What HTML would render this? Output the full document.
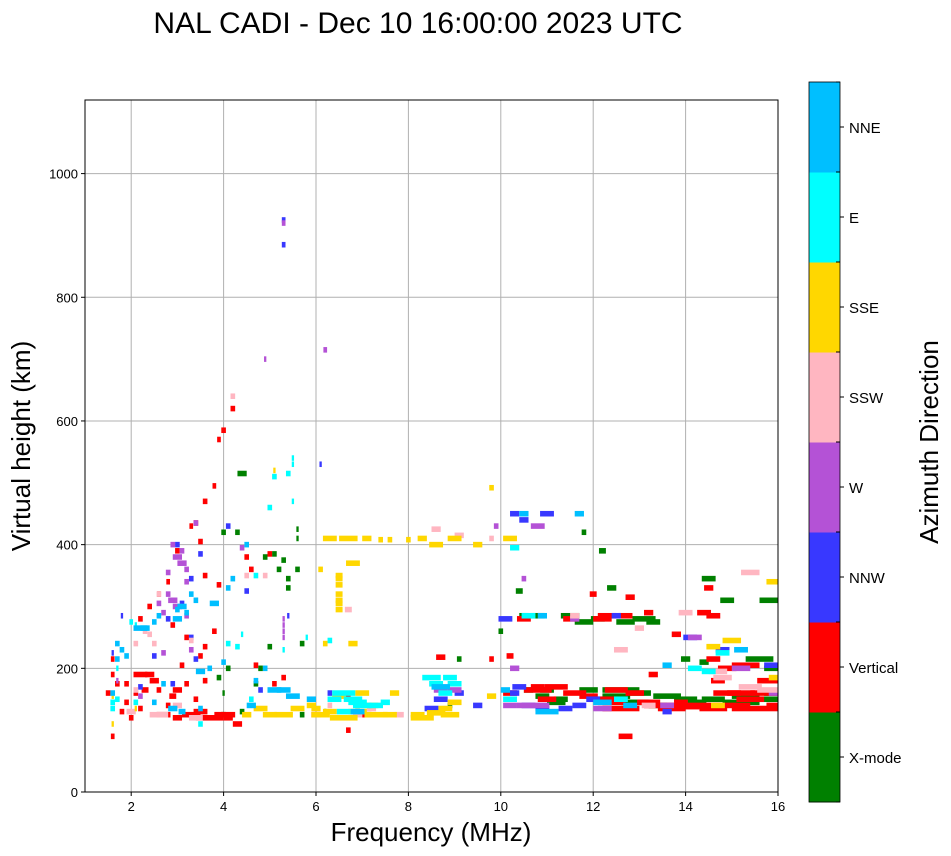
<!DOCTYPE html>
<html><head><meta charset="utf-8"><style>
html,body{margin:0;padding:0;background:#fff;}
svg{display:block;font-family:"Liberation Sans","DejaVu Sans",sans-serif;}
</style></head><body>
<svg id="chart" width="951" height="856" viewBox="0 0 951 856">
<defs><clipPath id="plotclip"><rect x="85" y="100" width="693" height="692"/></clipPath></defs>
<text x="418" y="33" font-size="30" text-anchor="middle">NAL CADI - Dec 10 16:00:00 2023 UTC</text>
<g id="grid"></g>
<g id="marks" clip-path="url(#plotclip)"></g>
<rect x="85" y="100" width="693" height="692" fill="none" stroke="#000" stroke-width="1"/>
<g id="axes"></g>
<text x="431" y="841" font-size="26" text-anchor="middle">Frequency (MHz)</text>
<text transform="translate(30,446) rotate(-90)" font-size="26" text-anchor="middle">Virtual height (km)</text>
<g id="cbar"></g>
<text transform="translate(938,442) rotate(-90)" font-size="26" text-anchor="middle">Azimuth Direction</text>
</svg>
<script>
const xTicks=[2,4,6,8,10,12,14,16];
const yTicks=[0,200,400,600,800,1000];
const dirLabels=["X-mode","Vertical","NNW","W","SSW","SSE","E","NNE"];
const dirColors=["#008000","#ff0000","#3838ff","#b452d6","#ffb6c1","#ffd700","#00ffff","#00bfff"];
// [freq MHz, height km, width MHz]
const xmode=[[4.4,515,.2],[4.3,420,.1],[4.0,420,.1],[5.6,425,.05],[5.6,410,.05],[5.3,375,.1],[4.9,380,.1],[5.2,360,.1],[5.4,345,.1],[5.6,360,.1],[5.0,235,.1],[5.7,240,.1],[4.8,200,.1],[3.9,185,.1],[4.1,200,.1],[4.0,160,.05],[5.7,125,.1],[6.2,130,.05],[6.9,140,.1],[9.1,215,.1],[8.9,140,.1],[10.0,260,.1],[10.4,325,.15],[10.9,155,.3],[10.8,285,.3],[11.2,145,.4],[11.5,285,.4],[11.8,420,.1],[12.2,390,.15],[12.4,330,.2],[12.6,165,.8],[12.9,145,.6],[13.1,280,.5],[13.6,155,.6],[14.0,215,.2],[14.2,145,.5],[14.5,345,.3],[14.9,310,.3],[15.2,145,.8],[15.6,215,.6],[15.8,310,.4],[15.9,160,.4],[12.3,150,.4],[11.8,275,.4],[10.6,165,.2],[4.0,125,.1],[4.4,130,.1],[4.7,175,.1],[5.1,385,.1],[5.4,330,.1],[10.5,285,.2],[11.0,165,.3],[11.3,150,.3],[11.9,165,.4],[12.5,155,.6],[13.0,160,.5],[13.4,140,.4],[14.0,150,.5],[14.6,150,.5],[15.3,155,.6],[15.7,150,.6],[12.1,280,.3],[12.7,275,.4],[13.3,275,.3],[15.9,200,.4],[14.4,210,.2]];
const vertical=[[1.6,90,.08],[1.5,160,.1],[1.7,175,.1],[1.6,215,.08],[1.8,130,.1],[1.9,145,.1],[2.0,120,.1],[2.2,190,.3],[2.3,165,.15],[2.5,180,.2],[2.7,125,.3],[2.9,155,.15],[3.0,165,.2],[3.2,175,.1],[3.3,125,.4],[3.5,130,.3],[3.7,120,.6],[4.1,125,.3],[4.3,110,.2],[2.6,320,.08],[2.8,340,.08],[3.0,390,.1],[3.3,430,.08],[3.4,435,.1],[3.6,470,.1],[3.8,495,.08],[3.9,570,.08],[4.0,585,.1],[4.2,620,.1],[3.5,405,.1],[3.6,350,.1],[3.9,335,.1],[2.4,300,.1],[2.2,280,.1],[3.1,205,.1],[3.5,220,.1],[3.8,260,.1],[4.5,380,.1],[4.6,360,.1],[4.7,205,.1],[5.0,385,.1],[5.1,175,.1],[5.3,185,.1],[6.0,125,.2],[6.7,100,.1],[6.7,155,.1],[7.1,125,.2],[8.7,218,.2],[9.8,215,.1],[10.2,220,.15],[10.2,160,.3],[10.5,280,.3],[10.8,165,.6],[11.2,170,.5],[11.5,280,.3],[11.6,160,.5],[12.2,150,.6],[12.3,285,.4],[12.5,165,.5],[12.6,135,.8],[12.7,90,.3],[13.2,290,.2],[13.5,140,.8],[13.8,255,.2],[14.3,140,.9],[14.4,290,.3],[14.5,330,.2],[14.6,285,.3],[14.7,180,.3],[14.9,160,.6],[15.5,135,1.0],[15.3,205,.6],[15.7,160,.6],[15.8,180,.5],[13.3,190,.2],[14.6,215,.3],[12.8,315,.2],[12.0,320,.15],[13.9,145,.3],[1.6,190,.08],[1.9,175,.1],[2.1,160,.1],[2.4,190,.2],[2.6,165,.1],[2.8,140,.1],[3.0,120,.2],[3.4,150,.1],[3.6,180,.1],[3.2,250,.1],[2.9,270,.1],[3.6,235,.1],[3.9,125,.2],[2.2,135,.1],[4.1,120,.2],[11.0,150,.4],[11.9,155,.4],[12.4,145,.6],[12.9,160,.4],[13.2,145,.5],[13.7,135,.6],[14.0,138,.6],[14.6,135,.6],[15.0,140,.8],[15.4,150,.6],[16.0,140,.5],[12.2,280,.4],[12.7,285,.3],[14.9,200,.4],[15.2,160,.6],[10.8,170,.3]];
const nnw=[[5.3,885,.08],[5.3,925,.08],[1.8,285,.05],[1.6,225,.05],[2.8,280,.1],[3.3,345,.1],[3.5,385,.1],[3.1,305,.1],[4.1,430,.1],[4.5,325,.1],[5.4,285,.05],[6.1,530,.05],[2.5,220,.1],[2.9,175,.1],[3.4,215,.1],[4.8,165,.1],[6.3,160,.1],[8.5,135,.3],[8.7,150,.3],[9.5,140,.2],[10.3,450,.2],[10.5,440,.2],[11.0,450,.3],[10.1,280,.3],[10.6,140,.3],[11.4,135,.3],[10.4,170,.3],[12.0,150,.3],[12.5,285,.2],[13.6,130,.2],[14.1,250,.3],[14.8,230,.3],[15.9,205,.4],[9.1,160,.2],[3.0,400,.1],[3.3,250,.1],[2.2,170,.1],[10.9,135,.3],[11.7,140,.3],[10.3,160,.2]];
const west=[[5.3,920,.08],[4.9,700,.05],[6.2,715,.08],[3.4,435,.1],[2.9,400,.1],[3.0,380,.2],[3.1,370,.2],[2.8,355,.1],[3.2,340,.1],[2.6,305,.1],[2.9,310,.2],[3.0,300,.2],[2.7,225,.1],[3.3,230,.1],[4.4,395,.1],[5.3,270,.05],[5.3,250,.05],[1.7,180,.05],[2.2,155,.1],[8.7,165,.3],[9.0,165,.3],[10.3,200,.2],[10.8,430,.3],[10.7,140,.7],[9.9,430,.1],[12.2,135,.4],[14.2,250,.3],[15.2,200,.4],[16.0,160,.4],[10.5,345,.1],[11.6,280,.2],[3.1,390,.1],[3.2,360,.1],[2.8,320,.1],[3.2,285,.1],[2.7,290,.1],[5.3,280,.05],[5.3,260,.05],[10.2,140,.3],[13.6,140,.3]];
const ssw=[[4.2,640,.1],[4.5,350,.1],[2.0,130,.2],[2.6,125,.4],[3.0,140,.2],[2.3,260,.1],[2.5,240,.1],[2.1,240,.1],[3.3,245,.1],[4.9,350,.1],[8.6,425,.2],[9.1,415,.2],[9.8,410,.1],[7.8,125,.2],[11.6,285,.2],[12.6,230,.3],[14.0,290,.3],[14.8,185,.4],[15.4,355,.4],[13.0,265,.2],[7.2,135,.2],[6.3,140,.1],[15.8,165,.5],[6.7,295,.15],[2.4,255,.1],[2.6,320,.1],[3.4,120,.3],[2.1,165,.1],[6.9,125,.2],[14.7,195,.4],[15.4,170,.5],[13.2,140,.3]];
const sse=[[6.5,350,.15],[6.5,335,.15],[6.5,320,.15],[6.5,305,.15],[6.5,295,.15],[6.3,410,.3],[6.7,410,.4],[7.1,410,.2],[7.4,408,.1],[7.6,408,.1],[8.0,408,.1],[8.3,410,.2],[8.6,400,.3],[9.0,410,.3],[9.5,400,.2],[9.8,492,.1],[10.2,410,.3],[6.1,360,.1],[6.8,370,.3],[6.8,240,.2],[6.2,240,.1],[4.8,135,.3],[5.3,125,.4],[6.1,125,.4],[6.6,120,.6],[7.3,125,.5],[8.3,120,.5],[8.9,125,.4],[7.0,160,.3],[6.5,155,.3],[5.9,140,.2],[9.0,145,.3],[9.8,155,.2],[14.6,235,.3],[15.0,245,.4],[15.9,340,.3],[14.7,140,.3],[16.0,185,.4],[4.5,125,.2],[2.1,135,.05],[1.6,155,.05],[5.1,520,.05],[7.7,160,.2],[1.6,110,.05],[6.5,310,.15],[6.5,345,.15],[5.6,135,.3],[6.3,130,.3],[6.9,130,.4],[7.6,125,.3],[8.6,128,.4],[8.2,125,.3],[5.0,125,.3],[6.0,135,.2],[7.2,140,.3],[8.8,135,.3]];
const east=[[2.0,275,.08],[2.1,270,.05],[1.7,200,.05],[1.6,145,.1],[4.1,240,.1],[4.4,255,.05],[5.3,230,.05],[5.1,510,.1],[5.4,515,.1],[5.5,540,.05],[5.0,460,.1],[4.7,350,.1],[5.5,470,.05],[6.3,245,.1],[6.6,160,.5],[7.0,140,.4],[6.8,150,.4],[8.5,185,.4],[8.8,160,.3],[9.0,175,.3],[10.2,150,.3],[10.3,395,.2],[12.6,150,.3],[14.8,225,.3],[14.5,195,.3],[14.2,200,.3],[10.6,285,.3],[7.5,145,.2],[3.5,110,.1],[2.1,145,.1],[4.6,150,.1],[5.8,250,.05],[1.6,135,.1],[1.7,150,.1],[6.4,150,.3],[6.9,145,.4],[7.3,140,.3],[8.6,175,.3],[8.9,185,.3],[6.6,130,.3],[5.5,530,.05],[4.3,235,.1]];
const nne=[[2.2,265,.3],[1.9,220,.1],[1.7,240,.1],[2.5,275,.1],[3.0,280,.2],[2.7,175,.1],[3.5,195,.2],[3.1,300,.2],[3.3,320,.1],[3.8,305,.2],[4.2,345,.1],[4.5,400,.1],[4.9,200,.1],[5.1,165,.3],[5.5,155,.3],[4.1,330,.1],[4.6,140,.2],[3.1,130,.15],[3.5,135,.1],[2.5,145,.1],[8.7,170,.4],[10.5,450,.2],[11.7,450,.2],[10.1,165,.2],[11.0,130,.5],[12.2,145,.4],[13.6,205,.2],[15.2,230,.3],[10.9,285,.2],[4.0,210,.1],[4.7,180,.1],[5.9,150,.2],[6.9,130,.3],[2.3,265,.2],[2.6,285,.1],[3.2,290,.1],[3.4,310,.1],[3.0,295,.1],[1.8,230,.1],[1.7,215,.1],[1.6,160,.1],[2.9,135,.2],[3.7,200,.1],[5.3,165,.3],[12.8,140,.3]];
const seriesByDir=[xmode,vertical,nnw,west,ssw,sse,east,nne];
const cellHeightKm=9;

const NS="http://www.w3.org/2000/svg";
const X0=85,X1=778,Y0=792,Y1=100;
const fMin=1,fMax=16,hMin=0,hMax=1119;
function xs(f){return X0+(f-fMin)/(fMax-fMin)*(X1-X0);}
function ys(h){return Y0-(h-hMin)/(hMax-hMin)*(Y0-Y1);}
function mk(tag,attrs,parent){const e=document.createElementNS(NS,tag);for(const k in attrs)e.setAttribute(k,attrs[k]);parent.appendChild(e);return e;}

const grid=document.getElementById('grid'),axes=document.getElementById('axes'),marks=document.getElementById('marks'),cbar=document.getElementById('cbar');
xTicks.forEach(t=>{const x=xs(t);
 const g=mk('line',{x1:x,x2:x,y1:Y1,y2:Y0,stroke:'#b0b0b0','stroke-width':1},grid);
 
 
 mk('line',{x1:x,x2:x,y1:Y0,y2:Y0+4,stroke:'#000'},axes);
 const tx=mk('text',{x:x,y:Y0+19,'font-size':13,'text-anchor':'middle'},axes);tx.textContent=t;
 
 
});
yTicks.forEach(t=>{const y=ys(t);
 const g=mk('line',{x1:X0,x2:X1,y1:y,y2:y,stroke:'#b0b0b0','stroke-width':1},grid);
 
 
 mk('line',{x1:X0-4,x2:X0,y1:y,y2:y,stroke:'#000'},axes);
 const tx=mk('text',{x:X0-7,y:y+5,'font-size':13,'text-anchor':'end'},axes);tx.textContent=t;
 
 
});
const hpx=cellHeightKm/(hMax-hMin)*(Y0-Y1);
seriesByDir.forEach((arr,d)=>{arr.forEach(p=>{
 const x=xs(p[0]-p[2]/2),w=xs(p[0]+p[2]/2)-x;
 const r=mk('rect',{x:x,y:ys(p[1])-hpx/2,width:Math.max(w,2),height:hpx,fill:dirColors[d]},marks);
 
 
});});
// colorbar
const CB_X=809,CB_W=31,CB_T=82,CB_B=802,n=dirLabels.length,bh=(CB_B-CB_T)/n;
dirLabels.forEach((lab,i)=>{const y=CB_B-(i+1)*bh;
 const r=mk('rect',{x:CB_X,y:y,width:CB_W,height:bh+0.5,fill:dirColors[i]},cbar);
 
 
 mk('line',{x1:CB_X+CB_W,x2:CB_X+CB_W+4,y1:y+bh/2,y2:y+bh/2,stroke:'#000'},cbar);
 const tx=mk('text',{x:CB_X+CB_W+9,y:y+bh/2+6,'font-size':15},cbar);tx.textContent=lab;
 
 
});
for(let i=0;i<=n;i++){const y=CB_T+i*bh;mk('line',{x1:CB_X+CB_W-4,x2:CB_X+CB_W,y1:y,y2:y,stroke:'#000'},cbar);}
mk('rect',{x:CB_X,y:CB_T,width:CB_W,height:CB_B-CB_T,fill:'none',stroke:'#000','stroke-width':0.8},cbar);
</script>
</body></html>
